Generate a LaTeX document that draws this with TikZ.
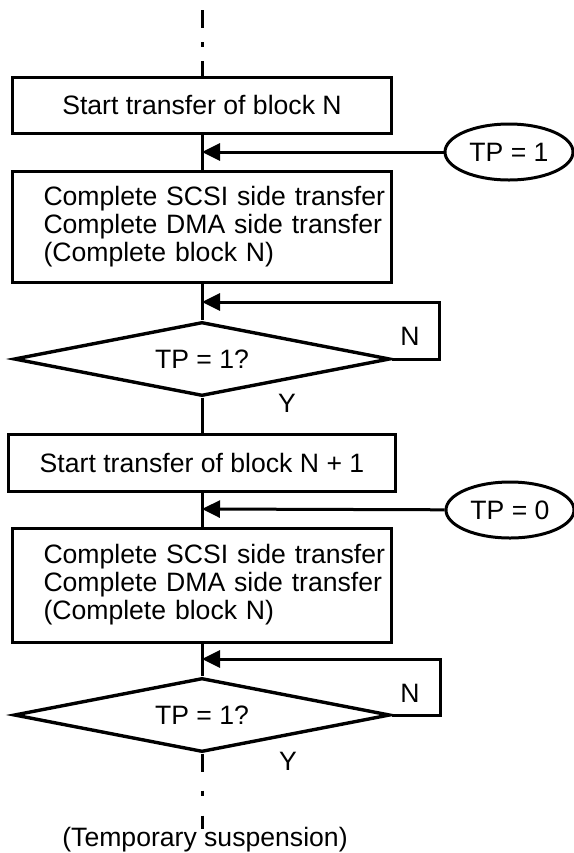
\documentclass[tikz,border=0pt]{standalone}
\usepackage{fontspec}
\setmainfont{Liberation Sans}
\usetikzlibrary{arrows.meta, positioning, shapes.geometric}

\begin{document}
\begin{tikzpicture}[x=0.5pt, y=-0.5pt,
  every node/.style={font=\fontsize{13.3}{14}\selectfont},
  block/.style={draw, line width=1.5pt, minimum width=189.5pt, inner xsep=15.5pt, inner ysep=0pt},
  textblock/.style={block, text width=158.5pt, align=left},
  decision/.style={draw, diamond, aspect=5, line width=1.7pt, minimum width=188pt, minimum height=37pt, inner sep=0pt},
  signal/.style={draw, ellipse, line width=1.5pt, minimum width=64pt, minimum height=28pt, inner sep=0pt},
  flow/.style={line width=1.5pt},
  flowarrow/.style={flow, -{Triangle[length=9pt, width=8.5pt]}},
  flowbreak/.style={flow, dash pattern=on 9pt off 7pt on 2.5pt off 7pt}]

  \useasboundingbox (0,0) rectangle (574,853);

  % Blocks of the first transfer
  \node[block, minimum height=28pt] (startN) at (202,105) {Start transfer of block N};
  \node[textblock, minimum height=55.5pt] (doneN) at (202,226.5)
    {\mbox{Complete SCSI side transfer}\\\mbox{Complete DMA side transfer}\\(Complete block N)};
  \node[decision] (testA) at (202,359) {TP = 1?};

  % Blocks of the second transfer
  \node[block, minimum height=28.5pt] (startNext) at (202,462.5) {Start transfer of block N + 1};
  \node[textblock, minimum height=57pt] (doneNext) at (202,585)
    {\mbox{Complete SCSI side transfer}\\\mbox{Complete DMA side transfer}\\(Complete block N)};
  \node[decision] (testB) at (202,715) {TP = 1?};

  % TP signals
  \node[signal] (tpOne) at (509,152) {TP = 1};
  \node[signal] (tpZero) at (510,510) {TP = 0};

  % Merge points on the main line
  \coordinate (mergeA) at (202,152);
  \coordinate (mergeB) at (202,302);
  \coordinate (mergeC) at (202,509);
  \coordinate (mergeD) at (202,659);
  \coordinate (entry) at (202,10);
  \coordinate (exit) at (202,829);

  % Main line
  \draw[flowbreak] (entry) -- (startN);
  \draw[flow] (startN) -- (doneN);
  \draw[flow] (doneN) -- (testA);
  \draw[flow] (testA) -- (startNext);
  \draw[flow] (startNext) -- (doneNext);
  \draw[flow] (doneNext) -- (testB);
  \draw[flow, dash pattern=on 9pt off 9.5pt on 2.5pt off 10pt] (testB) -- (exit);

  % Signal inputs
  \draw[flowarrow] (tpOne) -- (mergeA);
  \draw[flowarrow] (tpZero) -- (mergeC);

  % Wait loops
  \draw[flowarrow] (testA.east) -- ++(48,0) |- (mergeB);
  \draw[flowarrow] (testB.east) -- ++(49,0) |- (mergeD);

  % Branch labels
  \node (noA) at (410,336) {N};
  \node (yesA) at (287,403) {Y};
  \node (noB) at (410,693) {N};
  \node (yesB) at (288,761) {Y};

  \node (pause) at (205,840) {(Temporary suspension)};

\end{tikzpicture}
\end{document}
